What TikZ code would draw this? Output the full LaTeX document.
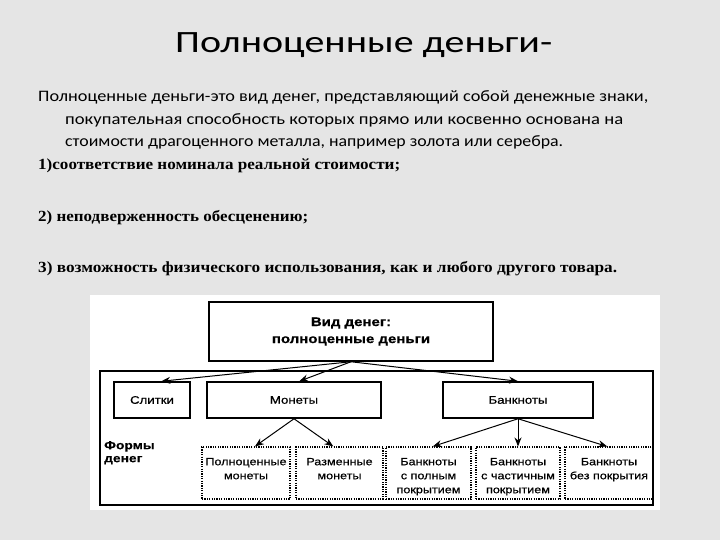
\documentclass[tikz,border=0pt]{standalone}
\usepackage{fontspec}
\setmainfont{Carlito}
\newfontfamily\serifb{Liberation Serif}
\newfontfamily\diag[FakeStretch=1.2,FakeBold=0.6]{Liberation Sans}
\usetikzlibrary{arrows.meta,calc}
\newcommand{\fitto}[2]{\resizebox{#1}{\height}{#2}}
\definecolor{bgc}{RGB}{229,229,229}
\begin{document}
\begin{tikzpicture}[x=1pt,y=-1pt,
  txt/.style={anchor=base west, inner sep=0pt},
  solidbox/.style={draw, line width=1.5pt, inner sep=0pt, font=\diag\fontsize{11}{13}\selectfont},
  dotbox/.style={draw, line width=1.1pt, dash pattern=on 1.2pt off 1.2pt, inner sep=0pt, font=\diag\fontsize{10.5}{14}\selectfont},
  arr/.style={line width=1pt, -{Stealth[length=9pt,width=7pt]}}]
\useasboundingbox (0,0) rectangle (720,540);
\fill[bgc] (0,0) rectangle (720,540);
\fill[white] (90,295) rectangle (660,510);

% title and text
\node[txt] (title) at (175,53) {\fontsize{31}{31}\selectfont\fitto{377pt}{Полноценные деньги-}};
\node[txt] (l1) at (38,102) {\fontsize{16}{16}\selectfont\fitto{610pt}{Полноценные деньги-это вид денег, представляющий собой денежные знаки,}};
\node[txt] (l2) at (65,124.5) {\fontsize{16}{16}\selectfont\fitto{558pt}{покупательная способность которых прямо или косвенно основана на}};
\node[txt] (l3) at (65,147) {\fontsize{16}{16}\selectfont\fitto{498pt}{стоимости драгоценного металла, например золота или серебра.}};
\node[txt] (l4) at (38,170) {\serifb\bfseries\fontsize{15.5}{16}\selectfont\fitto{362pt}{1)соответствие номинала реальной стоимости;}};
\node[txt] (l5) at (38,222) {\serifb\bfseries\fontsize{15.5}{16}\selectfont\fitto{270pt}{2) неподверженность обесценению;}};
\node[txt] (l6) at (38,272) {\serifb\bfseries\fontsize{15.5}{16}\selectfont\fitto{579pt}{3) возможность физического использования, как и любого другого товара.}};

% frame
\draw[line width=1.2pt] (100,371) rectangle (653,505);

% boxes
\node[solidbox, minimum width=284pt, minimum height=59pt, align=center,
  font=\diag\bfseries\fontsize{12.5}{17}\selectfont] (top) at (351,331.5) {Вид денег:\\полноценные деньги};
\node[solidbox, minimum width=76pt, minimum height=36pt] (sl) at (152,400) {Слитки};
\node[solidbox, minimum width=174pt, minimum height=36pt] (mo) at (294,400) {Монеты};
\node[solidbox, minimum width=150pt, minimum height=36pt] (ba) at (518,400) {Банкноты};

\node[anchor=north west, inner sep=0pt, align=left, font=\diag\bfseries\fontsize{11.5}{13}\selectfont] (fd) at (104,441) {Формы\\денег};

\node[dotbox] (d1) at (246,473) {\parbox[c][52pt][t]{88pt}{\centering\vspace{11pt}Полноценные\\монеты}};
\node[dotbox] (d2) at (339.5,473) {\parbox[c][52pt][t]{87pt}{\centering\vspace{11pt}Разменные\\монеты}};
\node[dotbox] (d3) at (428.5,473) {\parbox[c][52pt][t]{85pt}{\centering\vspace{11pt}Банкноты\\с полным\\покрытием}};
\node[dotbox] (d4) at (518,473) {\parbox[c][52pt][t]{84pt}{\centering\vspace{11pt}Банкноты\\с частичным\\покрытием}};
\node[dotbox] (d5) at (609,473) {\parbox[c][52pt][t]{88pt}{\centering\vspace{11pt}Банкноты\\без покрытия}};

% arrows
\draw[arr] (top.south) -- ($(sl.north west)!0.62!(sl.north east)$);
\draw[arr] (top.south) -- ($(mo.north west)!0.53!(mo.north east)$);
\draw[arr] (top.south) -- (ba.north);
\draw[arr] (mo.south) -- ($(d1.north west)!0.6!(d1.north east)$);
\draw[arr] (mo.south) -- ($(d2.north west)!0.43!(d2.north east)$);
\draw[arr] (ba.south) -- ($(d3.north west)!0.55!(d3.north east)$);
\draw[arr] (ba.south) -- (d4.north);
\draw[arr] (ba.south) -- ($(d5.north west)!0.48!(d5.north east)$);
\end{tikzpicture}
\end{document}
